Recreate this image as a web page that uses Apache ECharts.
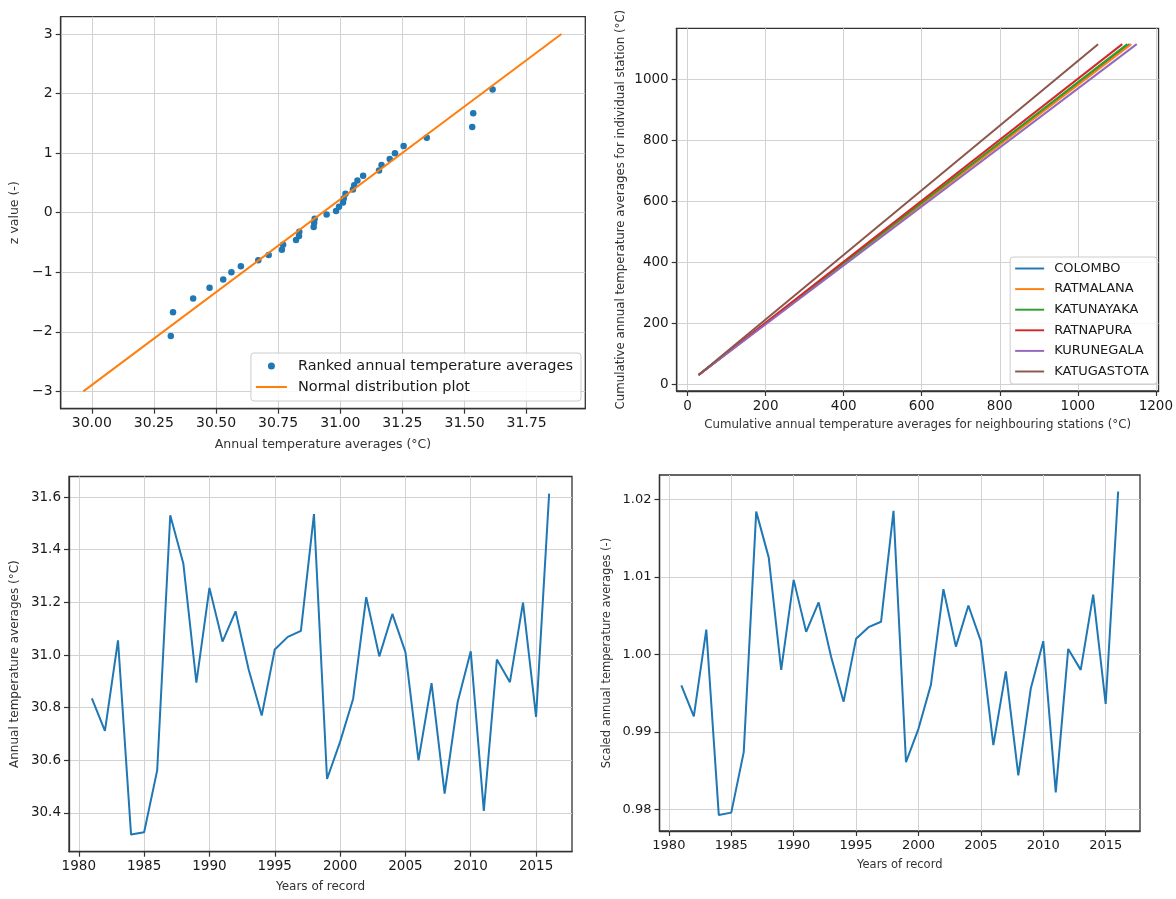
<!DOCTYPE html>
<html>
<head>
<meta charset="utf-8">
<script src="https://cdn.jsdelivr.net/npm/echarts@6/dist/echarts.min.js"></script>
<style>
  html, body { margin: 0; padding: 0; background: #fff; }
  #main { width: 1176px; height: 899px; }
</style>
</head>
<body>
<div id="main"></div>
<script>
// values
const years = [1981, 1982, 1983, 1984, 1985, 1986, 1987, 1988, 1989, 1990, 1991, 1992,
  1993, 1994, 1995, 1996, 1997, 1998, 1999, 2000, 2001, 2002, 2003, 2004,
  2005, 2006, 2007, 2008, 2009, 2010, 2011, 2012, 2013, 2014, 2015, 2016]
const annualTemps = [30.835, 30.712, 31.056, 30.318, 30.327, 30.562, 31.531, 31.348, 30.895,
  31.255, 31.051, 31.166, 30.945, 30.770, 31.021, 31.069, 31.092, 31.535, 30.529, 30.670,
  30.834, 31.220, 30.995, 31.156, 31.011, 30.600, 30.893, 30.474, 30.822, 31.014, 30.408,
  30.983, 30.897, 31.199, 30.765, 31.613]
const scaledTemps = [0.9960, 0.9920, 1.0032, 0.9793, 0.9796, 0.9874, 1.0184, 1.0125, 0.9980,
  1.0096, 1.0029, 1.0067, 0.9997, 0.9939, 1.0020, 1.0035, 1.0042, 1.0185, 0.9861, 0.9904,
  0.9961, 1.0084, 1.0010, 1.0063, 1.0017, 0.9883, 0.9978, 0.9844, 0.9956, 1.0017, 0.9822,
  1.0007, 0.9980, 1.0077, 0.9936, 1.0210]
const rankedTemps = [30.318, 30.327, 30.408, 30.474, 30.529, 30.562, 30.600, 30.670, 30.712,
  30.765, 30.770, 30.822, 30.834, 30.835, 30.893, 30.895, 30.897, 30.945, 30.983, 30.995,
  31.011, 31.014, 31.021, 31.051, 31.056, 31.069, 31.092, 31.156, 31.166, 31.199, 31.220,
  31.255, 31.348, 31.531, 31.535, 31.613]
const zValues = [-2.07, -1.67, -1.44, -1.26, -1.12, -1.00, -0.90, -0.80, -0.71, -0.62, -0.54,
  -0.46, -0.39, -0.32, -0.24, -0.17, -0.10, -0.03, 0.03, 0.10, 0.17, 0.24, 0.32, 0.39, 0.46,
  0.54, 0.62, 0.71, 0.80, 0.90, 1.00, 1.12, 1.26, 1.44, 1.67, 2.07]
const normalLineX = [29.966, 31.89]
const normalLineY = [-3, 3]

const stationNames = ['COLOMBO', 'RATMALANA', 'KATUNAYAKA', 'RATNAPURA', 'KURUNEGALA', 'KATUGASTOTA']
const cumNeighbourStart = [28, 28, 28, 28, 28, 28]
const cumStationStart = [30.5, 30.5, 30.5, 30.5, 30.5, 30.5]
const cumNeighbourEnd = [1133, 1137, 1127, 1114, 1151, 1052]
const cumStationEnd = [1115, 1115, 1115, 1115, 1115, 1115]

// tick labels
const ticks1X = [30.00, 30.25, 30.50, 30.75, 31.00, 31.25, 31.50, 31.75]
const ticks1Y = [-3, -2, -1, 0, 1, 2, 3]
const ticks2X = [0, 200, 400, 600, 800, 1000, 1200]
const ticks2Y = [0, 200, 400, 600, 800, 1000]
const yearTicks = [1980, 1985, 1990, 1995, 2000, 2005, 2010, 2015]
const ticks3Y = [30.4, 30.6, 30.8, 31.0, 31.2, 31.4, 31.6]
const ticks4Y = [0.98, 0.99, 1.00, 1.01, 1.02]

const FONT = 'DejaVu Sans'
const tab = ['#1f77b4', '#ff7f0e', '#2ca02c', '#d62728', '#9467bd', '#8c564b']
// flat bar used as the legend icon of line series (no marker)
const LINE_ICON = 'path://M0,0 L30,0 L30,2 L0,2 Z'

function axis(o) {
  return {
    type: 'value',
    gridIndex: o.grid,
    min: o.min,
    max: o.max,
    minInterval: o.step,
    maxInterval: o.step,
    name: o.name,
    nameLocation: 'middle',
    nameGap: o.gap,
    nameTextStyle: { fontFamily: FONT, fontSize: o.nameSize, color: '#333' },
    axisLine: { show: true, onZero: false, lineStyle: { color: '#333', width: 1.3 } },
    axisTick: { show: true, customValues: o.ticks, length: 5, lineStyle: { color: '#333', width: 1.2 } },
    axisLabel: {
      customValues: o.ticks,
      margin: 8,
      fontFamily: FONT,
      fontSize: o.labelSize,
      color: '#1a1a1a',
      showMinLabel: true,
      showMaxLabel: true,
      formatter: v => o.fmt(v).replace('-', '\u2212')
    },
    splitLine: { show: true, lineStyle: { color: '#d2d2d2', width: 1 } }
  }
}

const chart = echarts.init(document.getElementById('main'))

const stationSeries = stationNames.map((n, i) => ({
  name: n,
  type: 'line',
  xAxisIndex: 1,
  yAxisIndex: 1,
  symbol: 'none',
  lineStyle: { color: tab[i], width: 2 },
  itemStyle: { color: tab[i] },
  data: [[cumNeighbourStart[i], cumStationStart[i]], [cumNeighbourEnd[i], cumStationEnd[i]]]
}))

chart.setOption({
  backgroundColor: '#fff',
  animation: false,
  grid: [
    { left: 60.7, top: 16.7, width: 524.6, height: 392, show: true, borderColor: '#333', borderWidth: 1.3 },
    { left: 676.7, top: 28.3, width: 485.6, height: 362.7, show: true, borderColor: '#333', borderWidth: 1.3 },
    { left: 69, top: 476.5, width: 503, height: 375.2, show: true, borderColor: '#333', borderWidth: 1.3 },
    { left: 659.5, top: 475, width: 480.5, height: 356, show: true, borderColor: '#333', borderWidth: 1.3 }
  ],
  xAxis: [
    axis({ grid: 0, min: 29.875, max: 31.986, step: 0.25, ticks: ticks1X, fmt: v => v.toFixed(2),
      name: 'Annual temperature averages (°C)', gap: 30, nameSize: 12.5, labelSize: 14 }),
    axis({ grid: 1, min: -28, max: 1207, step: 200, ticks: ticks2X, fmt: v => String(v),
      name: 'Cumulative annual temperature averages for neighbouring stations (°C)', gap: 28, nameSize: 11.8, labelSize: 13.5 }),
    axis({ grid: 2, min: 1979.25, max: 2017.75, step: 5, ticks: yearTicks, fmt: v => String(v),
      name: 'Years of record', gap: 29, nameSize: 12, labelSize: 13.5 }),
    axis({ grid: 3, min: 1979.25, max: 2017.75, step: 5, ticks: yearTicks, fmt: v => String(v),
      name: 'Years of record', gap: 28, nameSize: 11.5, labelSize: 13 })
  ],
  yAxis: [
    axis({ grid: 0, min: -3.29, max: 3.29, step: 1, ticks: ticks1Y, fmt: v => String(v),
      name: 'z value (-)', gap: 39, nameSize: 12.5, labelSize: 14 }),
    axis({ grid: 1, min: -22, max: 1167, step: 200, ticks: ticks2Y, fmt: v => String(v),
      name: 'Cumulative annual temperature averages for individual station (°C)', gap: 50, nameSize: 11.8, labelSize: 13.5 }),
    axis({ grid: 2, min: 30.253, max: 31.678, step: 0.2, ticks: ticks3Y, fmt: v => v.toFixed(1),
      name: 'Annual temperature averages (°C)', gap: 48, nameSize: 12, labelSize: 13.5 }),
    axis({ grid: 3, min: 0.97723, max: 1.02312, step: 0.01, ticks: ticks4Y, fmt: v => v.toFixed(2),
      name: 'Scaled annual temperature averages (-)', gap: 46, nameSize: 11.5, labelSize: 13 })
  ],
  legend: [
    {
      data: [
        { name: 'Ranked annual temperature averages', icon: 'circle' },
        { name: 'Normal distribution plot', icon: LINE_ICON }
      ],
      orient: 'vertical',
      right: 595, top: 353,
      itemWidth: 31, itemHeight: 7, itemGap: 5,
      symbolKeepAspect: true,
      padding: [5, 8, 6, 5],
      backgroundColor: 'rgba(255,255,255,0.85)',
      borderColor: '#cccccc', borderWidth: 1, borderRadius: 3,
      textStyle: { fontFamily: FONT, fontSize: 14.5, color: '#1a1a1a', lineHeight: 16, padding: [0, 0, 0, 6] }
    },
    {
      data: stationNames.map(n => ({ name: n, icon: LINE_ICON })),
      orient: 'vertical',
      right: 19, top: 257,
      itemWidth: 29, itemHeight: 6, itemGap: 5.6,
      symbolKeepAspect: true,
      padding: [4, 8, 5, 5],
      backgroundColor: 'rgba(255,255,255,0.85)',
      borderColor: '#cccccc', borderWidth: 1, borderRadius: 3,
      textStyle: { fontFamily: FONT, fontSize: 13, color: '#1a1a1a', lineHeight: 15, padding: [0, 0, 0, 5] }
    }
  ],
  series: [
    {
      name: 'Ranked annual temperature averages',
      type: 'scatter',
      xAxisIndex: 0, yAxisIndex: 0,
      symbol: 'circle',
      symbolSize: 6.5,
      itemStyle: { color: tab[0], opacity: 1 },
      data: rankedTemps.map((t, i) => [t, zValues[i]])
    },
    {
      name: 'Normal distribution plot',
      type: 'line',
      xAxisIndex: 0, yAxisIndex: 0,
      symbol: 'none',
      lineStyle: { color: tab[1], width: 2 },
      itemStyle: { color: tab[1] },
      data: normalLineX.map((x, i) => [x, normalLineY[i]])
    },
    ...stationSeries,
    {
      type: 'line',
      xAxisIndex: 2, yAxisIndex: 2,
      symbol: 'none',
      lineStyle: { color: tab[0], width: 2 },
      data: years.map((y, i) => [y, annualTemps[i]])
    },
    {
      type: 'line',
      xAxisIndex: 3, yAxisIndex: 3,
      symbol: 'none',
      lineStyle: { color: tab[0], width: 2 },
      data: years.map((y, i) => [y, scaledTemps[i]])
    }
  ]
})
</script>
</body>
</html>
